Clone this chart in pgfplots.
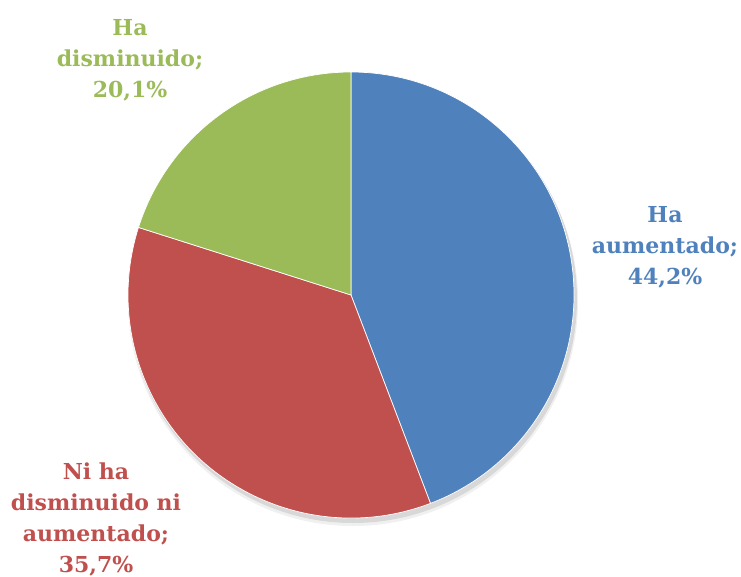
\documentclass[border=0pt]{standalone}
\usepackage{pgfplots}
\pgfplotsset{compat=1.18}
\usepackage{pgfplotstable}
\usepackage{fontspec}
\setmainfont{DejaVu Serif}
\definecolor{cblue}{HTML}{4F81BD}
\definecolor{cred}{HTML}{C0504D}
\definecolor{cgreen}{HTML}{9BBB59}
\pgfplotstableread{
idx value
0 44.2
1 35.7
2 20.1
}\piedata
\begin{document}
\begin{tikzpicture}
\pgfplotstablegetelem{0}{value}\of\piedata \let\va\pgfplotsretval
\pgfplotstablegetelem{1}{value}\of\piedata \let\vb\pgfplotsretval
\pgfplotstablegetelem{2}{value}\of\piedata \let\vc\pgfplotsretval
\pgfmathsetmacro\aA{90}
\pgfmathsetmacro\aB{90-3.6*\va}
\pgfmathsetmacro\aC{\aB-3.6*\vb}
\pgfmathsetmacro\aD{\aC-3.6*\vc}
\pgfkeys{/pgf/number format/.cd,assume math mode=true,use comma,fixed,precision=1,fixed zerofill}
\begin{axis}[width=741pt,height=576pt,scale only axis,
  xmin=0,xmax=741,ymin=0,ymax=576,y dir=reverse,hide axis,clip=false]
\fill[black,opacity=0.10] (axis cs:353,299) circle[radius=224pt];
\fill[black,opacity=0.06] (axis cs:353,301) circle[radius=225pt];
\fill[cblue,draw=white,line width=0.7pt] (axis cs:351,295) -- ++(\aA:223pt) arc[start angle=\aA,end angle=\aB,radius=223pt] -- cycle;
\fill[cred,draw=white,line width=0.7pt] (axis cs:351,295) -- ++(\aB:223pt) arc[start angle=\aB,end angle=\aC,radius=223pt] -- cycle;
\fill[cgreen,draw=white,line width=0.7pt] (axis cs:351,295) -- ++(\aC:223pt) arc[start angle=\aC,end angle=\aD,radius=223pt] -- cycle;
\node[align=center,text=cblue,font=\bfseries\fontsize{22}{31}\selectfont] at (axis cs:665,247)
  {Ha\\aumentado;\\\pgfmathprintnumber{\va}\%};
\node[align=center,text=cred,font=\bfseries\fontsize{22}{31}\selectfont] at (axis cs:96,519)
  {Ni ha\\disminuido ni\\aumentado;\\\pgfmathprintnumber{\vb}\%};
\node[align=center,text=cgreen,font=\bfseries\fontsize{22}{31}\selectfont] at (axis cs:130,60)
  {Ha\\disminuido;\\\pgfmathprintnumber{\vc}\%};
\end{axis}
\pgfresetboundingbox
\useasboundingbox (current axis.south west) rectangle (current axis.north east);
\end{tikzpicture}
\end{document}
